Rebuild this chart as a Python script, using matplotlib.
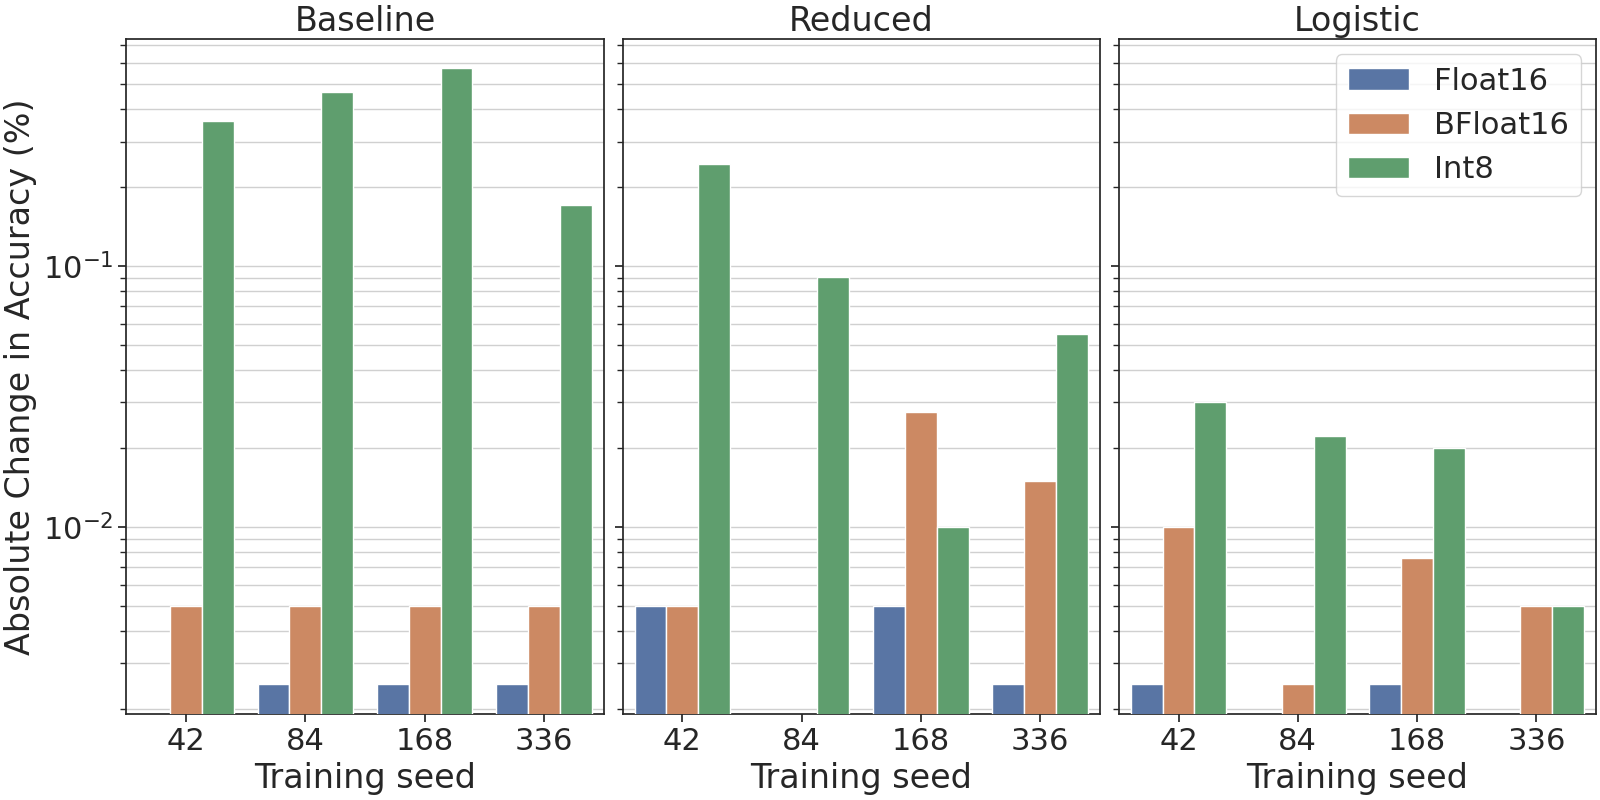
import numpy as np
import pandas as pd
import matplotlib
matplotlib.use("Agg")
import matplotlib.pyplot as plt
import seaborn as sns

seeds = ["42", "84", "168", "336"]
formats = ["Float16", "BFloat16", "Int8"]
panels = ["Baseline", "Reduced", "Logistic"]

# absolute change in accuracy (%), nan = no change (not drawn on log axis)
baseline_f16 = [np.nan, 0.0025, 0.0025, 0.0025]
baseline_bf16 = [0.005, 0.005, 0.005, 0.005]
baseline_int8 = [0.36, 0.465, 0.575, 0.172]

reduced_f16 = [0.005, np.nan, 0.005, 0.0025]
reduced_bf16 = [0.005, np.nan, 0.0275, 0.015]
reduced_int8 = [0.246, 0.091, 0.01, 0.055]

logistic_f16 = [0.0025, np.nan, 0.0025, np.nan]
logistic_bf16 = [0.01, 0.0025, 0.0076, 0.005]
logistic_int8 = [0.03, 0.0224, 0.02, 0.005]

values = {
    "Baseline": [baseline_f16, baseline_bf16, baseline_int8],
    "Reduced": [reduced_f16, reduced_bf16, reduced_int8],
    "Logistic": [logistic_f16, logistic_bf16, logistic_int8],
}

rows = []
for p in panels:
    for fmt, vals in zip(formats, values[p]):
        for s, v in zip(seeds, vals):
            rows.append({"panel": p, "format": fmt, "seed": s, "change": v})
df = pd.DataFrame(rows)

sns.set_theme(style="ticks", font_scale=2)

fig, axes = plt.subplots(1, 3, figsize=(16, 8), dpi=100, sharey=True)
fig.subplots_adjust(left=0.079, right=0.9975, top=0.951, bottom=0.1075, wspace=0.04)

for i, (ax, p) in enumerate(zip(axes, panels)):
    sub = df[df["panel"] == p]
    sns.barplot(data=sub, x="seed", y="change", hue="format", order=seeds,
                hue_order=formats, palette="deep", ax=ax, legend=(i == 2),
                zorder=3)
    ax.set_yscale("log")
    ax.set_ylim(0.00192, 0.74)
    ax.grid(axis="y", which="both", color="#d0d0d0", linewidth=1, zorder=0)
    ax.set_axisbelow(True)
    ax.set_title(p)
    ax.set_xlabel("Training seed")
    ax.set_ylabel("Absolute Change in Accuracy (%)" if i == 0 else "")
    ax.tick_params(axis="y", which="minor", left=True, length=4)
    ax.tick_params(axis="y", which="major", length=6)
    if i > 0:
        ax.tick_params(axis="y", which="both", labelleft=False)

axes[2].legend(loc="upper right", title=None, fontsize=22)

fig.savefig("out.png", dpi=100)
